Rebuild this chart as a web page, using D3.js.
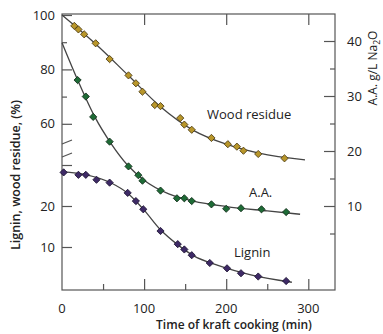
<!DOCTYPE html>
<html>
<head>
<meta charset="utf-8">
<script src="https://cdn.jsdelivr.net/npm/d3@7"></script>
<style>
  body { margin: 0; background: #fff; }
  svg text { font-family: "Open Sans", sans-serif; fill: #222; }
</style>
</head>
<body>
<div id="chart"></div>
<script>
// readings from the picture: [time (min), value]
const woodResidue = [
  [15, 96.0], [20, 94.7], [27, 92.9], [41, 89.6], [58, 83.8], [81, 77.8],
  [90, 74.9], [98, 71.8], [113, 66.9], [120, 66.5], [144, 62.1], [149, 59.7],
  [158, 57.8], [182, 54.8], [202, 52.5], [213, 51.6], [221, 50.1], [239, 48.9],
  [271, 47.3]
];
const woodCurve = [[0, 100], [40, 89.6], [80, 78], [120, 66.3], [160, 57.6], [200, 52.5], [240, 49.2], [296, 46.7]];

const activeAlkali = [
  [19, 32.9], [29, 29.9], [38, 26.2], [58, 21.7], [81, 17.2], [93, 15.6],
  [98, 14.6], [120, 12.8], [140, 11.4], [149, 11.4], [158, 10.9], [182, 10.3],
  [200, 9.5], [218, 9.6], [243, 9.4], [273, 8.9]
];
const aaCurve = [[0, 39.7], [20, 32.6], [40, 26.2], [60, 21.3], [80, 17.4], [100, 14.7], [130, 12.2], [160, 10.9], [200, 9.9], [250, 9.1], [290, 8.5]];

const lignin = [
  [2, 28.2], [20, 27.6], [29, 27.6], [42, 26.4], [58, 25.7], [80, 23.2],
  [90, 21.2], [99, 19.2], [120, 13.9], [141, 10.7], [149, 9.4], [158, 8.0],
  [180, 6.1], [201, 4.8], [218, 3.6], [239, 2.8], [273, 1.7]
];
const ligninCurve = [[0, 28.4], [30, 27.6], [60, 25.6], [80, 23.1], [100, 19.0], [120, 14.2], [140, 10.7], [160, 7.9], [190, 5.5], [230, 3.2], [280, 1.4]];

const xTicks = [0, 100, 200, 300];
const xMinor = [50, 150, 250];
const upperTicks = [100, 80, 60];
const upperMinor = [90, 70];
const lowerTicks = [20, 10];
const lowerUnlabeled = [30];
const rightTicks = [40, 30, 20, 10];
const rightMinor = [35, 25, 15, 5];

const width = 383, height = 334;
const frame = { left: 62, right: 335, top: 14, bottom: 290 };

const svg = d3.select('#chart').append('svg').attr('width', width).attr('height', height);

const x = d3.scaleLinear().domain([0, 300]).range([62, 308.3]);
// broken left axis: upper part for wood residue, lower part for lignin
const yUpper = d3.scaleLinear().domain([50, 100]).range([151, 15]);
const yLower = d3.scaleLinear().domain([0, 30]).range([288, 165]);
const yRight = d3.scaleLinear().domain([0, 40]).range([261, 41]);

const ink = '#555';

// frame
svg.append('rect')
  .attr('x', frame.left).attr('y', frame.top)
  .attr('width', frame.right - frame.left).attr('height', frame.bottom - frame.top)
  .attr('fill', 'none').attr('stroke', ink).attr('stroke-width', 1.2);

// bottom axis (ticks inward)
const xAxis = svg.append('g').attr('transform', `translate(0,${frame.bottom})`);
xAxis.call(d3.axisTop(x).tickValues(xTicks.filter((d) => d > 0)).tickSize(11).tickFormat(''));
xAxis.call((g) => g.append('g').call(d3.axisTop(x).tickValues(xMinor).tickSize(6).tickFormat('')));
xAxis.selectAll('.domain').remove();

svg.selectAll('.x-label')
  .data(xTicks)
  .enter()
  .append('text')
  .classed('x-label', true)
  .attr('x', (d) => x(d))
  .attr('y', 313)
  .attr('text-anchor', 'middle')
  .attr('font-size', 13)
  .text((d) => d);

// top ticks
const topAxis = svg.append('g').attr('transform', `translate(0,${frame.top})`)
  .call(d3.axisBottom(x).tickValues(xTicks.filter((d) => d > 0)).tickSize(11).tickFormat(''));
topAxis.selectAll('.domain').remove();

// left axis, two pieces
const leftUp = svg.append('g').attr('transform', `translate(${frame.left},0)`);
leftUp.call(d3.axisRight(yUpper).tickValues(upperTicks).tickSize(10).tickFormat(''));
leftUp.append('g').call(d3.axisRight(yUpper).tickValues(upperMinor).tickSize(5).tickFormat(''));
const leftLow = svg.append('g').attr('transform', `translate(${frame.left},0)`);
leftLow.call(d3.axisRight(yLower).tickValues(lowerTicks.concat(lowerUnlabeled)).tickSize(10).tickFormat(''));
svg.selectAll('.domain').remove();

svg.selectAll('.up-label')
  .data(upperTicks)
  .enter()
  .append('text')
  .attr('x', 55)
  .attr('y', (d) => yUpper(d))
  .attr('dy', '0.35em')
  .attr('text-anchor', 'end')
  .attr('font-size', 13)
  .text((d) => d);

svg.selectAll('.low-label')
  .data(lowerTicks)
  .enter()
  .append('text')
  .attr('x', 55)
  .attr('y', (d) => yLower(d))
  .attr('dy', '0.35em')
  .attr('text-anchor', 'end')
  .attr('font-size', 13)
  .text((d) => d);

// axis break marks
[yUpper(50) - 10, yUpper(50) + 3].forEach((yy) => {
  svg.append('line')
    .attr('x1', frame.left).attr('y1', yy + 3)
    .attr('x2', frame.left + 10).attr('y2', yy - 1)
    .attr('stroke', ink).attr('stroke-width', 1.2);
});

// right axis
const rightAxis = svg.append('g').attr('transform', `translate(${frame.right},0)`);
rightAxis.call(d3.axisLeft(yRight).tickValues(rightTicks).tickSize(11).tickFormat(''));
rightAxis.append('g').call(d3.axisLeft(yRight).tickValues(rightMinor).tickSize(5).tickFormat(''));
rightAxis.selectAll('.domain').remove();

svg.selectAll('.right-label')
  .data(rightTicks)
  .enter()
  .append('text')
  .attr('x', 347)
  .attr('y', (d) => yRight(d))
  .attr('dy', '0.35em')
  .attr('font-size', 13)
  .text((d) => d);

svg.selectAll('.tick line').attr('stroke', ink).attr('stroke-width', 1.2);

// curves and markers
const series = [
  { curve: woodCurve, points: woodResidue, y: yUpper, fill: '#b8962a', stroke: '#4a3a10' },
  { curve: aaCurve, points: activeAlkali, y: yRight, fill: '#1e6b36', stroke: '#0f2a18' },
  { curve: ligninCurve, points: lignin, y: yLower, fill: '#3e2a66', stroke: '#1a1030' }
];

series.forEach((s) => {
  const line = d3.line().x((d) => x(d[0])).y((d) => s.y(d[1])).curve(d3.curveMonotoneX);
  svg.append('path')
    .datum(s.curve)
    .attr('d', line)
    .attr('fill', 'none')
    .attr('stroke', '#444')
    .attr('stroke-width', 1.3);

  svg.append('g')
    .selectAll('path')
    .data(s.points)
    .enter()
    .append('path')
    .attr('d', d3.symbol(d3.symbolSquare, 26))
    .attr('transform', (d) => `translate(${x(d[0])},${s.y(d[1])}) rotate(45)`)
    .attr('fill', s.fill)
    .attr('stroke', s.stroke)
    .attr('stroke-width', 0.8);
});

// series labels
svg.append('text').attr('x', 207).attr('y', 119).attr('font-size', 13).text('Wood residue');
svg.append('text').attr('x', 249).attr('y', 197).attr('font-size', 13).text('A.A.');
svg.append('text').attr('x', 234).attr('y', 257).attr('font-size', 13).text('Lignin');

// axis titles
svg.append('text')
  .attr('transform', 'translate(20,175) rotate(-90)')
  .attr('text-anchor', 'middle')
  .attr('font-size', 12.5)
  .attr('font-weight', 600)
  .text('Lignin, wood residue, (%)');

svg.append('text')
  .attr('x', 234)
  .attr('y', 329)
  .attr('text-anchor', 'middle')
  .attr('font-size', 12)
  .attr('font-weight', 600)
  .text('Time of kraft cooking (min)');

const rt = svg.append('text')
  .attr('transform', 'translate(377,68) rotate(-90)')
  .attr('text-anchor', 'middle')
  .attr('font-size', 12);
rt.append('tspan').text('A.A. g/L Na');
rt.append('tspan').attr('font-size', 8.5).attr('dy', 2.5).text('2');
rt.append('tspan').attr('dy', -2.5).text('O');
</script>
</body>
</html>
